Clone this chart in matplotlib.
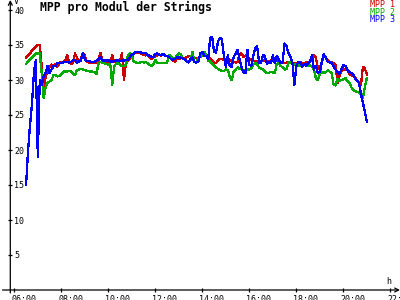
import numpy as np
import matplotlib
matplotlib.use('Agg')
import matplotlib.pyplot as plt
import matplotlib.transforms as mtransforms

plt.rcParams['font.family'] = ['DejaVu Sans Mono']

# ---- data (5-minute samples starting 06:30) ----
start_hour = 6.5
step_minutes = 5

mpp1 = [
    33.2, 33.5, 33.8, 34.2, 34.5, 34.8,
    35.0, 35.0, 32.0, 28.3, 30.5, 31.4, 31.9, 32.2, 32.0, 32.3, 31.9, 32.4,
    32.6, 32.6, 32.8, 33.6, 32.6, 32.3, 32.4, 33.8, 33.2, 32.6, 33.0, 33.8,
    33.5, 32.6, 32.5, 32.4, 32.5, 32.4, 32.4, 32.8, 33.9, 32.8, 32.5, 32.5,
    32.5, 32.6, 33.5, 32.6, 32.5, 32.6, 32.7, 33.8, 30.0, 32.5, 32.7, 33.0,
    33.3, 33.8, 34.0, 33.9, 34.0, 33.7, 33.6, 33.5, 33.6, 33.3, 33.0, 33.2,
    33.4, 33.5, 33.6, 33.5, 33.6, 33.5, 33.4, 33.3, 33.2, 32.8, 32.6, 33.0,
    33.0, 33.1, 33.1, 33.0, 33.3, 33.4, 33.4, 33.3, 33.2, 33.1, 33.2, 33.3,
    33.4, 33.5, 33.4, 33.4, 33.0, 32.8, 32.5, 32.4, 32.8, 33.0, 33.0, 32.9,
    32.8, 32.8, 32.7, 32.8, 32.6, 32.5, 32.6, 33.6, 33.8, 33.3, 33.5, 33.4,
    33.0, 32.9, 32.8, 32.7, 32.7, 32.6, 32.7, 32.8, 32.7, 32.6, 32.7, 32.8,
    33.0, 32.8, 32.9, 32.6, 32.5, 32.6, 32.4, 32.5, 32.6, 32.6, 32.5, 32.4,
    32.4, 32.5, 32.6, 32.4, 32.3, 32.5, 32.6, 32.6, 32.8, 33.5, 33.2, 31.6,
    31.8, 32.5, 33.5, 33.2, 32.9, 32.6, 32.5, 32.4, 32.2, 29.6, 30.5, 31.3,
    31.4, 31.6, 31.4, 30.9, 30.7, 30.6, 30.3, 30.0, 29.7, 29.3, 31.9, 31.6,
    30.8,
]

mpp2 = [
    32.3, 32.6, 32.9, 33.2, 33.5, 33.8,
    33.8, 33.8, 31.0, 27.4, 29.0, 29.6, 29.8, 30.0, 30.7, 30.7, 30.5, 30.6,
    30.8, 31.2, 31.2, 31.2, 31.3, 31.2, 30.9, 30.7, 31.4, 31.5, 31.6, 31.5,
    31.4, 31.3, 31.3, 31.2, 31.2, 31.1, 30.9, 32.4, 32.6, 32.5, 32.4, 32.3,
    32.2, 32.3, 29.3, 32.0, 32.3, 32.4, 32.2, 32.0, 32.0, 32.1, 33.5, 33.8,
    33.4, 32.6, 32.5, 32.4, 32.5, 32.6, 32.5, 32.6, 32.4, 32.2, 32.0, 32.3,
    32.9, 32.4, 32.4, 32.4, 32.4, 32.4, 32.5, 33.6, 33.4, 33.1, 33.1, 33.5,
    33.8, 33.7, 33.1, 32.9, 32.7, 32.6, 32.8, 34.0, 32.6, 32.5, 33.1, 33.3,
    33.5, 34.0, 33.6, 32.8, 32.6, 32.3, 32.0, 31.8, 31.6, 31.4, 31.3, 31.3,
    31.5, 31.4, 30.5, 30.0, 31.2, 31.5, 31.8, 31.6, 31.5, 31.4, 31.3, 31.5,
    31.5, 31.6, 32.2, 32.4, 32.2, 31.8, 31.6, 31.5, 31.2, 31.0, 31.0, 31.2,
    31.1, 31.0, 32.3, 32.4, 32.0, 31.8, 31.5, 31.6, 32.5, 32.6, 32.3, 32.2,
    32.2, 32.1, 32.0, 32.0, 32.2, 32.1, 32.0, 32.1, 31.9, 31.5, 30.2, 30.0,
    30.8, 31.2, 31.0, 31.1, 31.4, 31.2, 31.0, 29.4, 29.2, 30.1, 29.9, 30.0,
    30.1, 30.3, 29.8, 29.7, 29.0, 28.6, 28.4, 28.3, 28.2, 28.0, 27.5, 29.0,
    30.3,
]

mpp3 = [
    15.0, 19.8, 23.5, 26.5, 31.0, 32.9,
    19.0, 30.0, 29.3, 30.5, 31.0, 32.0, 31.0, 31.5, 32.0, 32.0, 32.4, 32.4,
    32.4, 32.5, 32.6, 32.6, 32.5, 32.6, 32.8, 32.9, 32.5, 32.6, 32.8, 33.8,
    33.0, 32.7, 32.7, 32.6, 32.6, 32.6, 32.8, 33.0, 33.3, 32.8, 32.8, 32.8,
    32.8, 32.7, 32.6, 32.7, 32.8, 32.8, 32.7, 32.8, 32.8, 32.9, 32.9, 33.3,
    33.6, 33.8, 34.0, 34.0, 34.0, 33.9, 33.9, 33.8, 33.6, 33.5, 33.3, 33.3,
    33.7, 33.8, 33.6, 33.6, 33.7, 33.5, 33.4, 33.3, 33.0, 32.9, 33.0, 33.2,
    33.2, 33.2, 33.1, 33.0, 32.6, 32.5, 33.0, 33.2, 32.6, 32.5, 32.6, 33.8,
    34.0, 33.5, 33.4, 33.0, 36.0, 36.2, 34.0, 33.9, 35.5, 36.0, 35.8, 33.5,
    31.9, 33.5, 32.0, 31.8, 33.3, 33.8, 34.3, 33.0, 31.8, 31.1, 31.0, 34.3,
    32.2, 32.0, 33.5, 34.5, 34.8, 32.4, 32.5, 33.6, 33.3, 32.3, 32.5, 32.4,
    33.5, 32.4, 33.4, 33.0, 32.4, 32.6, 35.2, 34.8, 33.8, 33.3, 32.5, 29.3,
    32.0, 32.6, 32.5, 31.9, 32.3, 32.0, 32.4, 32.6, 33.5, 31.5, 32.0, 31.0,
    31.2, 32.6, 33.7, 33.2, 32.6, 32.5, 32.4, 32.0, 31.5, 31.2, 30.9, 31.5,
    32.2, 32.0, 31.5, 31.2, 31.0, 30.8, 30.2, 30.0, 29.5, 28.0, 26.7, 25.5,
    24.0,
]

series_names = ['MPP 1', 'MPP 2', 'MPP 3']
series_colors = ['#cc0000', '#00aa00', '#0000ff']
x_ticks = [6, 8, 10, 12, 14, 16, 18, 20, 22]
x_labels = ['06:00', '08:00', '10:00', '12:00', '14:00', '16:00', '18:00', '20:00', '22:00']
y_ticks = [5, 10, 15, 20, 25, 30, 35, 40]
title = 'MPP pro Modul der Strings'

times = start_hour + np.arange(len(mpp1)) * step_minutes / 60.0

W, H = 400, 300
fig = plt.figure(figsize=(4, 3), dpi=100)
ax_l, ax_b = 10.3, 10.0
ax = fig.add_axes([ax_l / W, ax_b / H, 1 - ax_l / W, (H - ax_b) / H])
ax.set_xlim(5.83, 22.41)
ax.set_ylim(0, 290 / 7.0)

for vals, col in zip([mpp1, mpp2, mpp3], series_colors):
    ax.plot(times, vals, color=col, lw=0.9, antialiased=False)

for s in ax.spines.values():
    s.set_visible(False)

# axis lines with arrows
ax.annotate('', xy=(1.0, 0), xycoords='axes fraction',
            xytext=(-0.02, 0), textcoords='axes fraction',
            arrowprops=dict(arrowstyle='->', lw=0.9, color='black',
                            shrinkA=0, shrinkB=0, mutation_scale=7))
ax.annotate('', xy=(0, 1.0), xycoords='axes fraction',
            xytext=(0, -0.01), textcoords='axes fraction',
            arrowprops=dict(arrowstyle='->', lw=0.9, color='black',
                            shrinkA=0, shrinkB=0, mutation_scale=7))

ax.set_xticks(x_ticks)
ax.set_xticklabels(x_labels)
ax.set_yticks(y_ticks)
ax.set_yticklabels([str(v) for v in y_ticks])
ax.tick_params(axis='both', direction='inout', length=3.5, width=0.9, labelsize=6)
ax.tick_params(axis='x', pad=1.8)
ax.tick_params(axis='y', pad=-4.6)

off = mtransforms.ScaledTranslation(-3 / 100, 0, fig.dpi_scale_trans)
for lbl in ax.get_xticklabels():
    lbl.set_horizontalalignment('left')
    lbl.set_transform(lbl.get_transform() + off)
for lbl in ax.get_yticklabels():
    lbl.set_horizontalalignment('left')

# unit labels
fig.text(14 / W, 1 - 2 / H, 'V', fontsize=6, ha='left', va='center')
fig.text(386 / W, 1 - 281 / H, 'h', fontsize=6, ha='left', va='center')

# title
fig.text(40 / W, 1 - 7.5 / H, title, fontsize=8.3, fontweight='bold',
         ha='left', va='center')

# legend text
for i, (name, col) in enumerate(zip(series_names, series_colors)):
    fig.text(395 / W, 1 - (7 + 7.6 * i) / H, name, fontsize=6, color=col,
             ha='right', va='baseline')

fig.savefig('out.png', dpi=100, facecolor='white')
